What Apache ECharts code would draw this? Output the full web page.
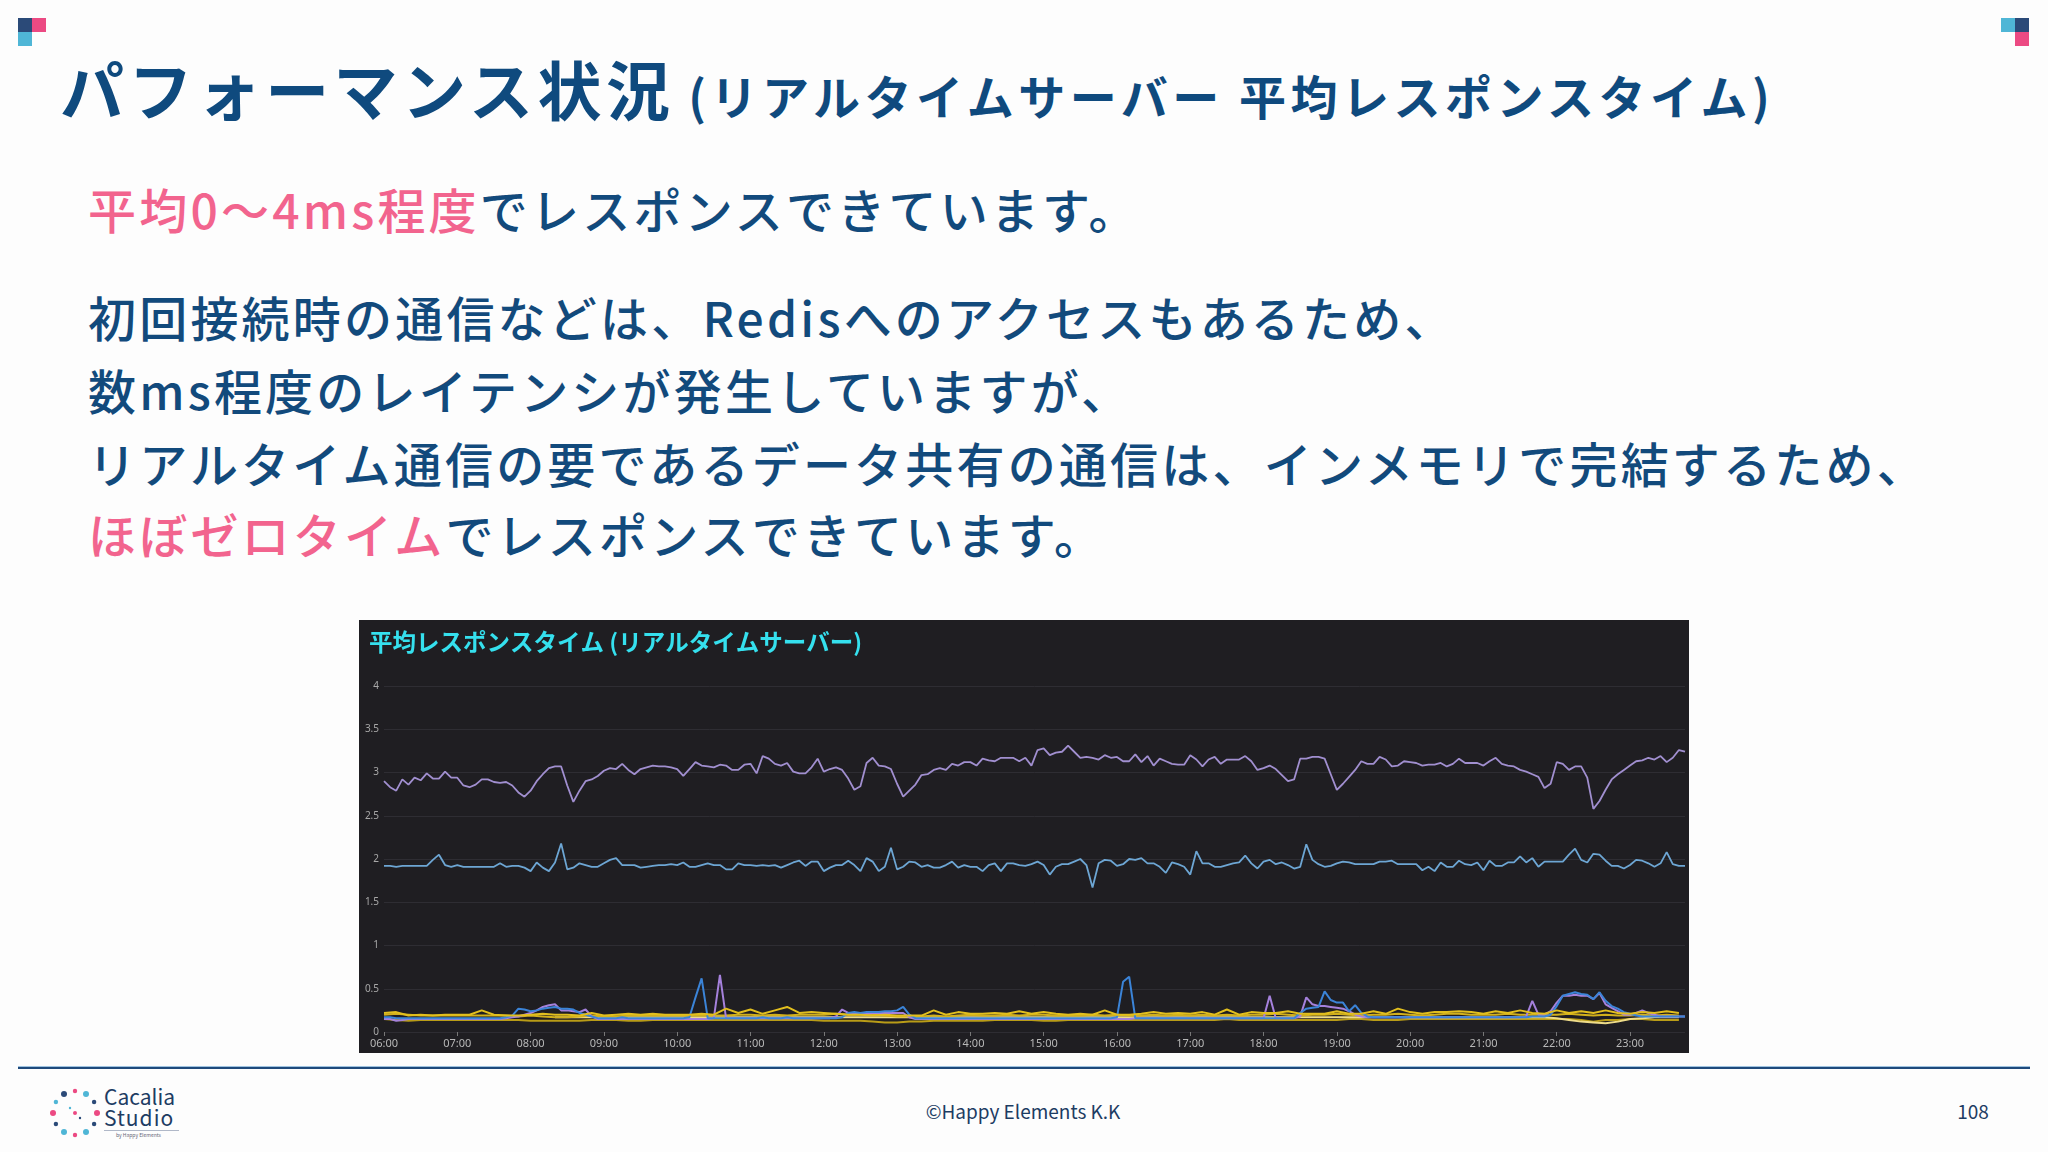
<!DOCTYPE html>
<html><head><meta charset="utf-8">
<script src="https://cdn.jsdelivr.net/npm/echarts@6/dist/echarts.min.js"></script>
<style>
html,body{margin:0;padding:0;background:#fdfdfd;width:2048px;height:1152px;overflow:hidden;font-family:"Noto Sans CJK JP","Noto Sans",sans-serif;}
.abs{position:absolute;}
.sq{position:absolute;width:14px;height:14px;}
.title{left:60px;top:52px;font-size:64px;line-height:70px;font-weight:700;color:#0f4a7e;letter-spacing:4.4px;white-space:nowrap;}
.title .sub{font-size:47px;letter-spacing:4.5px;margin-left:14px;}
.body{left:88px;font-size:48px;line-height:48px;font-weight:500;color:#124a7c;letter-spacing:3.2px;white-space:nowrap;}
.pk{color:#f2648e;}
#chart{position:absolute;left:359px;top:620px;width:1330px;height:433px;}
.foot{font-size:19px;color:#1d3c63;white-space:nowrap;}
</style></head>
<body>
<div class="sq" style="left:18px;top:18px;background:#2b4a78;"></div>
<div class="sq" style="left:32px;top:18px;background:#ec4a83;"></div>
<div class="sq" style="left:18px;top:32px;background:#4fb6d6;"></div>
<div class="sq" style="left:2001px;top:18px;background:#4fb6d6;"></div>
<div class="sq" style="left:2015px;top:18px;background:#2b4a78;"></div>
<div class="sq" style="left:2015px;top:32px;background:#ec4a83;"></div>

<div class="abs title">パフォーマンス状況<span class="sub">(リアルタイムサーバー 平均レスポンスタイム)</span></div>

<div class="abs body" style="top:184px;"><span class="pk">平均0〜4ms程度</span>でレスポンスできています。</div>
<div class="abs body" style="top:292px;">初回接続時の通信などは、Redisへのアクセスもあるため、</div>
<div class="abs body" style="top:365px;">数ms程度のレイテンシが発生していますが、</div>
<div class="abs body" style="top:438px;">リアルタイム通信の要であるデータ共有の通信は、インメモリで完結するため、</div>
<div class="abs body" style="top:509px;"><span class="pk">ほぼゼロタイム</span>でレスポンスできています。</div>

<div id="chart"></div>

<div class="abs" style="left:18px;top:1066px;width:2012px;height:1px;background:#9fc3e0;"></div>
<div class="abs" style="left:18px;top:1067px;width:2012px;height:2px;background:#1f4a7c;"></div>

<svg class="abs" style="left:48px;top:1086px;" width="54" height="54" viewBox="0 0 54 54">
  <g id="dots"></g>
</svg>
<div class="abs foot" style="left:104px;top:1085px;font-size:21px;line-height:22px;color:#1d3c63;">Cacalia</div>
<div class="abs foot" style="left:104px;top:1106px;font-size:21px;line-height:22px;color:#1d3c63;letter-spacing:1px;">Studio</div>
<div class="abs" style="left:104px;top:1130px;width:75px;height:1px;background:#b0b8c8;"></div>
<div class="abs foot" style="left:116px;top:1132px;font-size:5px;line-height:6px;color:#667;">by Happy Elements</div>

<div class="abs foot" style="left:923px;top:1099px;width:200px;text-align:center;line-height:24px;">©Happy Elements K.K</div>
<div class="abs foot" style="left:1943px;top:1099px;width:60px;text-align:center;line-height:24px;">108</div>

<script>
// ---- logo dots (decoration) ----
(function(){
  var g=document.getElementById('dots');
  var cols=['#ec4a83','#2b4a78','#4fb6d6','#ec4a83','#4fb6d6','#2b4a78','#ec4a83','#4fb6d6','#2b4a78','#ec4a83','#4fb6d6','#2b4a78'];
  var s='';
  for(var k=0;k<12;k++){
    var a=k/12*Math.PI*2;
    var x=27+22*Math.cos(a), y=27+22*Math.sin(a);
    s+='<circle cx="'+x.toFixed(1)+'" cy="'+y.toFixed(1)+'" r="'+(k%2?2.2:3)+'" fill="'+cols[k]+'"/>';
  }
  s+='<circle cx="27" cy="27" r="2" fill="#ec4a83"/><circle cx="22" cy="22" r="1.2" fill="#4fb6d6"/><circle cx="32" cy="32" r="1.2" fill="#2b4a78"/>';
  g.innerHTML=s;
})();

// ---- DATA ----
const chartTitle = '平均レスポンスタイム (リアルタイムサーバー)';
const startHour = 6;          // 06:00
const stepMain = 5/60;        // 5-minute samples
const stepLow = 10/60;        // 10-minute samples
const yTicks = [0, 0.5, 1, 1.5, 2, 2.5, 3, 3.5, 4];
const hourLabels = ['06:00','07:00','08:00','09:00','10:00','11:00','12:00','13:00','14:00','15:00','16:00','17:00','18:00','19:00','20:00','21:00','22:00','23:00'];

// upper lavender series (5-min)
const seriesPurpleMain = [
 2.90,2.83,2.79,2.92,2.86,2.94,2.91,2.99,2.93,2.93,
 3.01,2.94,2.94,2.85,2.83,2.86,2.92,2.92,2.89,2.88,
 2.89,2.85,2.77,2.72,2.79,2.90,2.98,3.05,3.07,3.07,
 2.85,2.66,2.79,2.90,2.92,2.96,3.02,3.05,3.04,3.10,
 3.03,2.98,3.04,3.06,3.08,3.07,3.07,3.06,3.04,2.96,
 3.04,3.12,3.08,3.07,3.06,3.09,3.08,3.03,3.03,3.09,
 3.10,2.99,3.19,3.16,3.10,3.08,3.11,3.01,2.99,2.99,
 3.06,3.16,3.01,3.04,3.06,3.03,2.93,2.80,2.84,3.11,
 3.17,3.08,3.07,3.04,2.87,2.72,2.79,2.86,2.97,2.98,
 3.03,3.05,3.03,3.10,3.08,3.12,3.12,3.08,3.16,3.14,
 3.13,3.17,3.17,3.17,3.13,3.17,3.08,3.26,3.28,3.20,
 3.23,3.24,3.31,3.24,3.17,3.18,3.17,3.15,3.20,3.17,
 3.18,3.13,3.13,3.21,3.12,3.19,3.08,3.16,3.13,3.10,
 3.09,3.09,3.20,3.15,3.07,3.15,3.18,3.10,3.15,3.15,
 3.15,3.19,3.13,3.03,3.05,3.08,3.04,2.97,2.90,2.92,
 3.16,3.16,3.18,3.18,3.16,2.98,2.80,2.87,2.95,3.03,
 3.13,3.10,3.10,3.18,3.15,3.07,3.08,3.13,3.12,3.11,
 3.08,3.09,3.09,3.11,3.07,3.10,3.16,3.11,3.11,3.11,
 3.08,3.13,3.17,3.10,3.08,3.07,3.03,3.01,2.98,2.95,
 2.82,2.87,3.12,3.10,3.03,3.07,3.07,2.94,2.58,2.67,
 2.80,2.92,2.98,3.03,3.08,3.13,3.14,3.17,3.15,3.19,
 3.12,3.17,3.26,3.24
];

// light blue series around 2 (5-min)
const seriesBlueMain = [
 1.92,1.92,1.91,1.92,1.92,1.92,1.92,1.92,1.99,2.05,
 1.93,1.91,1.93,1.91,1.91,1.91,1.91,1.91,1.91,1.95,
 1.91,1.92,1.92,1.90,1.86,1.96,1.90,1.86,1.96,2.18,
 1.88,1.90,1.95,1.93,1.91,1.91,1.95,1.99,2.01,1.93,
 1.93,1.93,1.90,1.91,1.92,1.93,1.93,1.94,1.93,1.96,
 1.91,1.91,1.93,1.95,1.93,1.93,1.88,1.88,1.95,1.93,
 1.93,1.92,1.93,1.92,1.93,1.90,1.93,1.96,1.98,1.92,
 1.97,1.97,1.86,1.90,1.93,1.93,1.98,1.93,1.86,2.01,
 1.97,1.86,1.91,2.13,1.88,1.91,1.97,1.96,1.91,1.93,
 1.90,1.90,1.93,1.97,1.90,1.93,1.91,1.91,1.86,1.93,
 1.95,1.86,1.95,1.95,1.93,1.92,1.94,1.97,1.93,1.82,
 1.91,1.94,1.94,1.97,2.00,1.93,1.67,1.95,1.99,1.98,
 1.92,1.94,2.00,1.99,2.01,1.95,1.95,1.91,1.84,1.96,
 1.94,1.91,1.82,2.09,1.95,1.95,1.91,1.91,1.93,1.95,
 1.96,2.04,1.95,1.89,1.97,1.99,1.94,1.96,1.93,1.89,
 1.91,2.17,1.99,1.94,1.91,1.92,1.95,1.97,1.96,1.94,
 1.94,1.94,1.94,1.97,1.97,1.98,1.94,1.94,1.94,1.94,
 1.87,1.91,1.86,1.96,1.91,1.91,1.98,1.94,1.93,1.96,
 1.87,1.98,1.92,1.92,1.96,1.96,2.03,1.96,2.01,1.91,
 1.97,1.97,1.97,1.97,2.05,2.12,1.99,1.96,2.06,2.05,
 1.98,1.92,1.92,1.89,1.93,1.99,1.98,1.95,1.91,1.95,
 2.08,1.94,1.92,1.92
];

// low blue series (5-min)
const seriesBlueLow = [
 0.17,0.17,0.16,0.16,0.16,0.16,0.16,0.16,0.16,0.16,0.16,0.16,
 0.16,0.16,0.16,0.16,0.16,0.16,0.16,0.16,0.17,0.19,0.27,0.26,
 0.24,0.25,0.27,0.28,0.29,0.27,0.27,0.26,0.22,0.20,0.18,0.16,
 0.16,0.16,0.16,0.17,0.16,0.16,0.16,0.16,0.16,0.16,0.16,0.16,
 0.16,0.16,0.17,0.40,0.62,0.16,0.16,0.16,0.16,0.16,0.16,0.16,
 0.16,0.16,0.17,0.16,0.16,0.16,0.17,0.16,0.16,0.16,0.16,0.16,
 0.16,0.16,0.16,0.17,0.22,0.23,0.22,0.23,0.23,0.23,0.24,0.24,
 0.25,0.29,0.20,0.16,0.16,0.16,0.16,0.16,0.16,0.16,0.16,0.16,
 0.16,0.16,0.16,0.16,0.16,0.16,0.16,0.16,0.16,0.16,0.16,0.16,
 0.16,0.16,0.16,0.16,0.16,0.16,0.16,0.16,0.16,0.16,0.16,0.16,
 0.17,0.58,0.64,0.16,0.16,0.16,0.16,0.16,0.16,0.16,0.16,0.16,
 0.16,0.16,0.16,0.16,0.16,0.16,0.16,0.16,0.16,0.16,0.16,0.16,
 0.16,0.16,0.16,0.16,0.16,0.16,0.22,0.27,0.28,0.29,0.47,0.37,
 0.34,0.34,0.24,0.31,0.22,0.18,0.17,0.17,0.17,0.17,0.17,0.17,
 0.17,0.17,0.17,0.17,0.17,0.17,0.17,0.17,0.17,0.17,0.17,0.17,
 0.17,0.17,0.17,0.17,0.17,0.17,0.17,0.17,0.18,0.18,0.18,0.20,
 0.30,0.42,0.44,0.46,0.44,0.43,0.38,0.46,0.36,0.30,0.27,0.23,
 0.21,0.19,0.18,0.18,0.18,0.18,0.18,0.18,0.18,0.18
];

// low purple series (5-min)
const seriesPurpleLow = [
 0.15,0.15,0.13,0.14,0.15,0.15,0.15,0.15,0.15,0.15,0.15,0.15,
 0.15,0.15,0.15,0.15,0.15,0.15,0.15,0.15,0.16,0.17,0.18,0.20,
 0.22,0.25,0.29,0.31,0.32,0.25,0.25,0.24,0.23,0.26,0.18,0.15,
 0.15,0.15,0.15,0.15,0.15,0.15,0.15,0.15,0.15,0.15,0.15,0.15,
 0.15,0.15,0.15,0.15,0.15,0.15,0.16,0.66,0.16,0.16,0.16,0.16,
 0.16,0.16,0.16,0.16,0.16,0.16,0.16,0.16,0.16,0.16,0.16,0.16,
 0.16,0.16,0.18,0.26,0.22,0.22,0.21,0.21,0.22,0.22,0.22,0.22,
 0.22,0.22,0.17,0.15,0.15,0.15,0.15,0.15,0.15,0.15,0.15,0.15,
 0.15,0.15,0.15,0.15,0.15,0.15,0.15,0.15,0.15,0.15,0.15,0.15,
 0.15,0.15,0.15,0.15,0.15,0.15,0.15,0.15,0.15,0.15,0.15,0.15,
 0.15,0.15,0.15,0.16,0.16,0.16,0.16,0.16,0.16,0.16,0.16,0.16,
 0.16,0.16,0.16,0.16,0.16,0.16,0.16,0.16,0.16,0.16,0.16,0.16,
 0.16,0.42,0.16,0.16,0.16,0.16,0.18,0.40,0.32,0.30,0.30,0.29,
 0.28,0.27,0.24,0.20,0.18,0.17,0.17,0.17,0.17,0.17,0.17,0.17,
 0.17,0.17,0.17,0.17,0.17,0.17,0.17,0.17,0.17,0.17,0.17,0.17,
 0.17,0.17,0.17,0.17,0.17,0.17,0.17,0.18,0.36,0.20,0.20,0.24,
 0.34,0.42,0.42,0.43,0.42,0.42,0.38,0.45,0.32,0.28,0.24,0.20,
 0.20,0.22,0.25,0.22,0.20,0.18,0.18,0.18,0.18,0.18
];

// yellow series (10-min)
const seriesYellowA = [
 0.22,0.23,0.19,0.20,0.19,0.20, 0.20,0.20,0.25,0.20,0.19,0.19,
 0.20,0.21,0.20,0.20,0.19,0.22, 0.19,0.20,0.21,0.20,0.21,0.20,
 0.20,0.20,0.21,0.20,0.27,0.22, 0.26,0.21,0.25,0.29,0.22,0.23,
 0.22,0.21,0.20,0.20,0.19,0.20, 0.19,0.19,0.19,0.25,0.20,0.23,
 0.21,0.21,0.22,0.21,0.24,0.21, 0.23,0.21,0.20,0.21,0.20,0.25,
 0.20,0.20,0.21,0.23,0.21,0.22, 0.21,0.23,0.20,0.26,0.20,0.23,
 0.22,0.22,0.24,0.21,0.21,0.21, 0.24,0.21,0.21,0.24,0.21,0.27,
 0.23,0.21,0.23,0.23,0.24,0.23, 0.21,0.24,0.22,0.25,0.22,0.21,
 0.25,0.22,0.24,0.22,0.25,0.22, 0.21,0.23,0.22,0.24,0.22
];
const seriesYellowB = [
 0.20,0.21,0.20,0.19,0.19,0.19, 0.19,0.19,0.19,0.19,0.19,0.18,
 0.19,0.18,0.17,0.17,0.18,0.19, 0.18,0.18,0.19,0.19,0.19,0.19,
 0.19,0.19,0.19,0.19,0.19,0.20, 0.20,0.19,0.20,0.19,0.20,0.20,
 0.20,0.21,0.20,0.20,0.20,0.19, 0.18,0.18,0.18,0.19,0.18,0.19,
 0.20,0.19,0.19,0.20,0.19,0.20, 0.20,0.19,0.19,0.19,0.20,0.19,
 0.20,0.19,0.19,0.20,0.19,0.20, 0.19,0.20,0.19,0.20,0.19,0.20,
 0.20,0.21,0.20,0.19,0.20,0.20, 0.21,0.20,0.19,0.20,0.20,0.21,
 0.20,0.19,0.20,0.21,0.21,0.20, 0.20,0.20,0.21,0.20,0.20,0.20,
 0.20,0.21,0.20,0.19,0.20,0.19, 0.19,0.20,0.19,0.20,0.19
];
const seriesYellowC = [
 0.15,0.14,0.13,0.14,0.14,0.14, 0.14,0.14,0.14,0.14,0.14,0.14,
 0.13,0.13,0.13,0.13,0.13,0.14, 0.14,0.14,0.13,0.13,0.14,0.14,
 0.14,0.14,0.14,0.14,0.14,0.14, 0.14,0.14,0.14,0.14,0.14,0.14,
 0.13,0.13,0.13,0.13,0.12,0.11, 0.11,0.12,0.12,0.13,0.13,0.13,
 0.13,0.13,0.14,0.14,0.14,0.14, 0.13,0.13,0.14,0.14,0.14,0.14,
 0.14,0.14,0.14,0.14,0.14,0.14, 0.14,0.14,0.14,0.15,0.14,0.14,
 0.14,0.14,0.14,0.14,0.14,0.14, 0.14,0.15,0.15,0.14,0.14,0.14,
 0.15,0.15,0.15,0.15,0.15,0.15, 0.15,0.15,0.15,0.15,0.15,0.15,
 0.15,0.15,0.14,0.12,0.14,0.14, 0.15,0.15,0.14,0.14,0.14
];
const seriesYellowD = [
 null,null,null,null,null,null, null,null,null,null,null,null,
 null,null,0.17,0.17,0.17,0.17, 0.17,0.17,0.17,0.17,0.17,0.17,
 0.17,0.17,0.17,0.17,0.17,0.17, 0.17,0.17,0.17,0.17,0.17,0.17,
 0.17,0.17,0.17,0.17,0.17,0.17, 0.17,0.17,0.17,0.17,0.17,0.17,
 0.17,0.17,0.17,0.17,0.17,0.17, 0.17,0.17,0.17,0.17,0.17,0.17,
 0.17,0.17,0.17,0.17,0.17,0.17, 0.17,0.17,0.17,0.17,0.17,0.17,
 0.17,0.17,0.17,0.17,0.17,0.17, 0.17,0.17,0.17,0.17,0.17,0.17,
 0.17,0.17,0.17,0.17,0.17,0.17, 0.17,0.17,0.17,0.17,0.17,0.17,
 0.16,0.14,0.12,0.11,0.10,0.12, 0.15,0.16,0.17,0.17,0.17
];

// ---- chart ----
function pts(arr, step){ return arr.map((v,i)=>[startHour + i*step, v]); }
function line(name, arr, step, color, z, w){
  return {name:name,type:'line',data:pts(arr,step),showSymbol:false,symbol:'none',
    lineStyle:{width:w||2,color:color},itemStyle:{color:color},z:z,connectNulls:false,animation:false};
}
const chart = echarts.init(document.getElementById('chart'), null, {renderer:'canvas'});
chart.setOption({
  animation:false,
  backgroundColor:'#1f1e22',
  title:{text:chartTitle,left:10,top:10,padding:0,textStyle:{color:'#35e0ee',fontSize:23.5,fontWeight:'bold',fontFamily:'"Noto Sans CJK JP"'}},
  grid:{left:25,right:4,top:66,bottom:21,containLabel:false},
  xAxis:{type:'value',min:startHour,max:startHour+(seriesPurpleMain.length-1)*stepMain,interval:1,
    axisLine:{show:false},
    axisTick:{show:true,length:4,lineStyle:{color:'#777'}},
    splitLine:{show:false},
    axisLabel:{color:'#b8b8b8',fontSize:11,margin:6,showMaxLabel:false,fontFamily:'"Noto Sans","Open Sans",sans-serif',
      formatter:function(v){var i=Math.round(v-startHour);return hourLabels[i]||'';}}},
  yAxis:{type:'value',min:yTicks[0],max:yTicks[yTicks.length-1],interval:yTicks[1]-yTicks[0],
    axisLine:{show:false},axisTick:{show:false},
    splitLine:{lineStyle:{color:'#2e2d33',width:1}},
    axisLabel:{color:'#a8a8a8',fontSize:10,margin:5,fontFamily:'"Noto Sans","Open Sans",sans-serif'}},
  series:[
    line('yC',seriesYellowC,stepLow,'#b99c17',2,2),
    line('yD',seriesYellowD,stepLow,'#eedc8a',3,2),
    line('yB',seriesYellowB,stepLow,'#d2b01c',3,2),
    line('purpleLow',seriesPurpleLow,stepMain,'#a581dc',4,2),
    line('blueLow',seriesBlueLow,stepMain,'#3b84d8',5,2),
    line('yA',seriesYellowA,stepLow,'#e2bf1e',6,2),
    line('blueMain',seriesBlueMain,stepMain,'#6da6d4',7,1.8),
    line('purpleMain',seriesPurpleMain,stepMain,'#a18fd0',8,1.8)
  ]
});
</script>
</body></html>
